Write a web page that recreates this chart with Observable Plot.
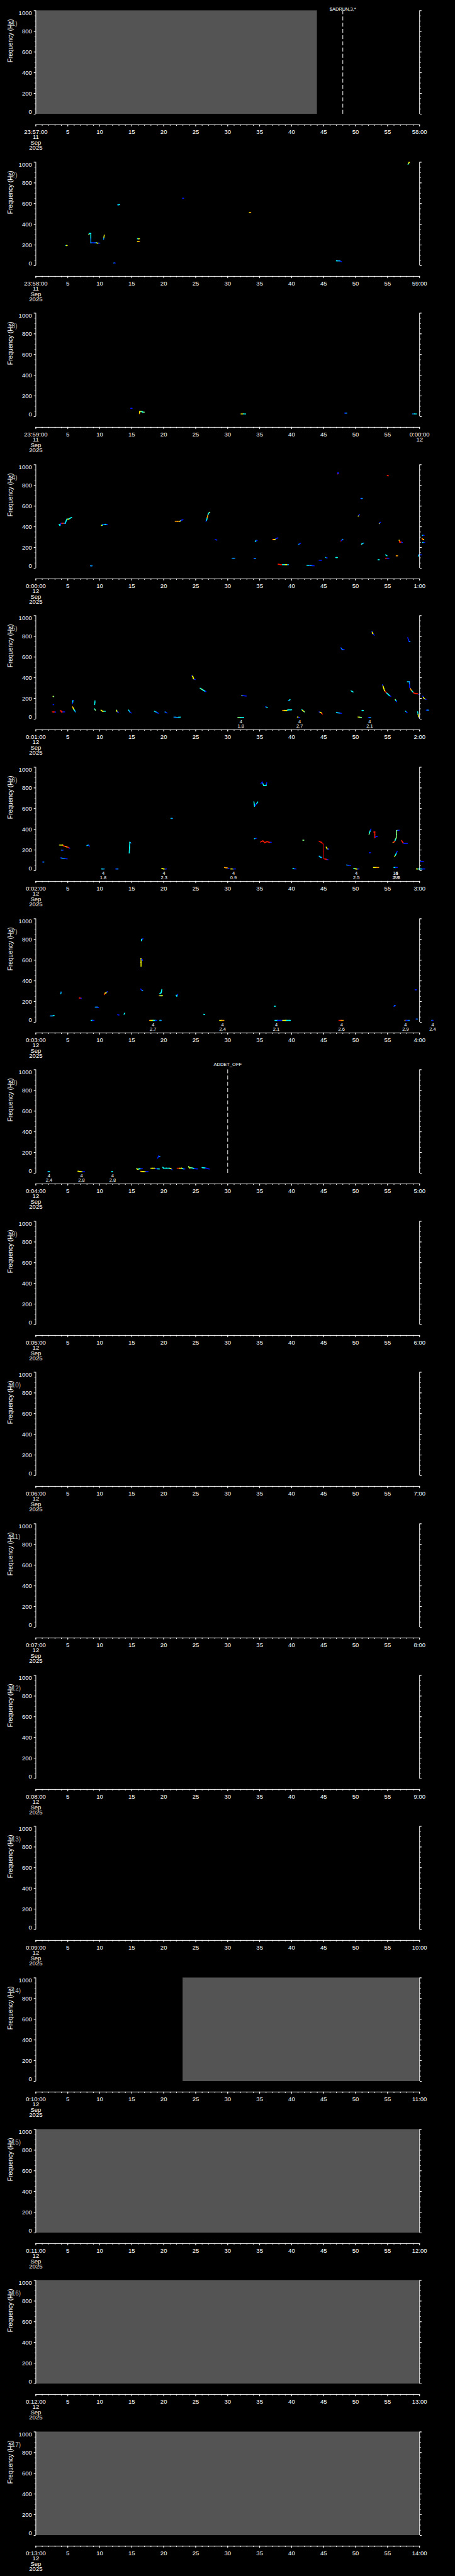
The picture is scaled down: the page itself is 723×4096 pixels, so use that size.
<!DOCTYPE html>
<html><head><meta charset="utf-8">
<script src="https://cdn.jsdelivr.net/npm/d3@7"></script>
<script src="https://cdn.jsdelivr.net/npm/@observablehq/plot@0.6"></script>
<style>
html,body{margin:0;padding:0;background:#000;}
#chart svg{display:block;}
</style></head><body><div id="chart"></div>
<script>
// ---------- data ----------
const panelNumbers = [1,2,3,4,5,6,7,8,9,10,11,12,13,14,15,16,17];
const startLabels = ["23:57:00","23:58:00","23:59:00","0:00:00","0:01:00","0:02:00","0:03:00","0:04:00","0:05:00","0:06:00","0:07:00","0:08:00","0:09:00","0:10:00","0:11:00","0:12:00","0:13:00"];
const endLabels = ["58:00","59:00","0:00:00","1:00","2:00","3:00","4:00","5:00","6:00","7:00","8:00","9:00","10:00","11:00","12:00","13:00","14:00"];
const startDays = ["11","11","11","12","12","12","12","12","12","12","12","12","12","12","12","12","12"];
const endDays = ["","","12","","","","","","","","","","","","","",""];
const monthLabel = "Sep", yearLabel = "2025";
const xMajor = [0,5,10,15,20,25,30,35,40,45,50,55,60];
const xMinor = [0,1,2,3,4,5,6,7,8,9,10,11,12,13,14,15,16,17,18,19,20,21,22,23,24,25,26,27,28,29,30,31,32,33,34,35,36,37,38,39,40,41,42,43,44,45,46,47,48,49,50,51,52,53,54,55,56,57,58,59,60];
const yMajor = [0,200,400,600,800,1000];
const yMinor = [0,50,100,150,200,250,300,350,400,450,500,550,600,650,700,750,800,850,900,950,1000];
const yLabel = "Frequency (Hz)";

// gray "no data" ranges (panel, start s, end s)
const grayPanels = [1,14,15,16,17];
const grayStart = [0,23,0,0,0];
const grayEnd = [44,60,60,60,60];

// event markers
const eventPanels = [1,8];
const eventTimes = [48,30];
const eventLabels = ["$ADRUN,3,*","ADDET_OFF"];

// detection notes below the plot: [time s, line1, line2]
const notes5 = [[32.06,"4","1.8"],[41.25,"4","2.7"],[52.2,"4","2.1"]];
const notes6 = [[10.54,"4","1.8"],[20.05,"4","2.3"],[30.9,"4","0.9"],[50.1,"4","2.5"],[56.25,"16","2.8"],[56.45,"4","2.3"]];
const notes7 = [[18.33,"4","2.7"],[29.2,"4","2.4"],[37.6,"4","2.1"],[47.8,"4","2.6"],[57.8,"4","2.9"],[62.05,"4","2.4"]];
const notes8 = [[2.07,"4","2.4"],[7.14,"4","2.8"],[12.0,"4","2.8"]];

// traces: [time s, frequency Hz, intensity 0..1]
const traces2 = [
 [[4.7,195,.38],[4.9,195,.62]],
 [[8.3,299,.62],[8.35,313,.38],[8.6,313,.38],[8.6,221,.27],[9.0,221,.15],[9.5,221,.27],[9.6,218,.62],[10.0,218,.15]],
 [[10.6,256,.27],[10.7,295,.62]],
 [[12.2,26,.27],[12.4,26,.15]],
 [[12.8,588,.27],[13.1,590,.38]],
 [[15.9,260,.38],[16.2,260,.62]],
 [[15.9,235,.62],[16.2,235,.72]],
 [[22.95,651,.15],[23.1,651,.15]],
 [[33.4,513,.62],[33.6,513,.72]],
 [[47.0,47,.38],[47.5,47,.27],[47.8,38,.15]],
 [[58.2,980,.38],[58.35,997,.62],[58.4,997,.62]]
];
const traces3 = [
 [[14.85,80,.15],[15.05,80,.15]],
 [[16.2,29,.72],[16.25,49,.62],[16.6,49,.5],[16.7,43,.38],[16.95,43,.5]],
 [[32.1,26,.62],[32.8,26,.38]],
 [[48.3,34,.15],[48.6,34,.27]],
 [[58.9,26,.27],[59.5,26,.38]]
];
const traces4 = [
 [[3.65,424,.38],[3.78,413,.38],[3.92,434,.15],[4.2,434,.85],[4.64,434,.27],[4.69,449,.38],[4.87,474,.38],[5.1,474,.62],[5.32,481,.38],[5.6,491,.38]],
 [[8.55,23,.27],[8.8,23,.27]],
 [[10.26,413,.62],[10.5,420,.38],[10.6,424,.15],[10.9,424,.38],[11.2,420,.15]],
 [[21.8,453,.72],[22.5,453,.72],[22.6,457,.5],[22.8,464,.15],[23.0,469,.15]],
 [[26.6,453,.15],[26.75,474,.38],[26.85,503,.72],[27.0,531,.38],[27.2,541,.5]],
 [[28.05,277,.15],[28.3,272,.15]],
 [[30.7,96,.27],[31.1,96,.27]],
 [[34.3,257,.27],[34.45,267,.38],[34.6,267,.15]],
 [[34.1,96,.15],[34.35,94,.27]],
 [[37.0,277,.85],[37.4,277,.62],[37.6,287,.15],[37.85,293,.15]],
 [[37.9,39,.85],[38.3,34,.85],[38.8,34,.38],[39.2,34,.62],[39.5,34,.27]],
 [[41.1,231,.27],[41.4,241,.15]],
 [[42.4,29,.38],[42.9,27,.27],[43.5,23,.15]],
 [[44.3,77,.15],[44.7,77,.15]],
 [[45.35,103,.38],[45.55,100,.15]],
 [[46.9,103,.38],[47.15,103,.38]],
 [[47.2,911,.85],[47.25,923,.15],[47.35,917,.15]],
 [[47.7,263,.85],[47.85,271,.15],[48.0,279,.27]],
 [[50.4,503,.62],[50.6,517,.15]],
 [[50.8,674,.15],[51.05,674,.27]],
 [[50.9,229,.85],[51.0,236,.38],[51.25,243,.27]],
 [[53.5,81,.38],[53.7,81,.38]],
 [[53.7,431,.62],[53.8,441,.15],[53.9,443,.15]],
 [[54.7,129,.38],[54.9,120,.38]],
 [[54.7,96,.85],[55.2,96,.15]],
 [[54.95,896,.85],[55.1,893,.85]],
 [[56.35,120,.72],[56.55,120,.72]],
 [[56.8,271,.62],[56.9,252,.85],[57.1,252,.85],[57.3,249,.15]],
 [[59.8,117,.38],[59.9,129,.27],[60.3,129,.15]],
 [[60.4,287,.62],[60.5,277,.85],[60.65,277,.62]],
 [[60.45,317,.38],[60.7,317,.15]],
 [[60.5,249,.38],[60.8,249,.15]]
];
const traces5 = [
 [[2.6,70,.85],[2.9,68,.85],[3.1,68,.15]],
 [[2.7,220,.62],[2.8,218,.5]],
 [[2.7,140,.15],[2.8,140,.15]],
 [[3.9,84,.85],[4.0,70,.85],[4.5,70,.15]],
 [[5.75,151,.15],[5.8,180,.38],[5.9,180,.15]],
 [[5.75,119,.72],[5.9,99,.62],[6.05,84,.38],[6.2,70,.27]],
 [[9.2,140,.38],[9.25,176,.38]],
 [[9.2,99,.38],[9.3,87,.5]],
 [[10.2,87,.62],[10.4,77,.62],[10.85,76,.38]],
 [[12.6,87,.5],[12.7,75,.62],[12.9,66,.15]],
 [[14.5,87,.38],[14.7,70,.27],[14.9,59,.15]],
 [[18.55,76,.38],[18.9,66,.27],[19.15,56,.15]],
 [[20.2,70,.27],[20.5,59,.15]],
 [[21.6,19,.27],[22.1,17,.27],[22.6,19,.38]],
 [[24.4,419,.15],[24.55,411,.62],[24.65,390,.62],[24.9,383,.15]],
 [[25.7,299,.38],[25.95,289,.5],[26.2,279,.38],[26.4,271,.38],[26.6,266,.15]],
 [[31.6,16,.5],[32.5,16,.38]],
 [[32.2,226,.5],[32.5,226,.15],[32.9,223,.15]],
 [[35.9,119,.15],[36.2,113,.38]],
 [[38.6,84,.72],[39.2,84,.62],[39.5,90,.38],[40.0,90,.38]],
 [[39.5,180,.27],[39.75,187,.38]],
 [[40.9,20,.62],[41.25,16,.15]],
 [[41.6,90,.38],[41.8,80,.62],[42.0,70,.5]],
 [[44.3,70,.15],[44.55,65,.62],[44.8,49,.85]],
 [[47.0,63,.38],[47.4,60,.27],[47.8,56,.15]],
 [[47.7,690,.15],[47.9,673,.27],[48.2,673,.15]],
 [[49.3,273,.38],[49.6,263,.38]],
 [[50.4,20,.62],[50.9,16,.5]],
 [[51.0,84,.38],[51.2,84,.38]],
 [[52.0,16,.15],[52.35,16,.27]],
 [[52.55,849,.15],[52.65,830,.62],[52.9,811,.15]],
 [[54.2,333,.15],[54.35,309,.62],[54.5,277,.62],[54.75,259,.85],[55.0,244,.38],[55.25,230,.38],[55.5,220,.15]],
 [[56.2,190,.62],[56.3,179,.38],[56.4,169,.15]],
 [[57.8,77,.38],[58.05,63,.15]],
 [[58.1,361,.38],[58.4,361,.27],[58.45,309,.15],[58.7,280,.72],[58.9,266,.38],[59.15,251,.85],[59.7,244,.85],[60.05,237,.15]],
 [[58.15,787,.15],[58.35,751,.15],[58.5,751,.27]],
 [[59.7,70,.38],[59.85,20,.62],[60.0,16,.15]],
 [[60.5,223,.15],[60.7,200,.62],[61.0,190,.15]],
 [[61.05,87,.15],[61.4,87,.27]]
];
const traces6 = [
 [[1.05,84,.15],[1.25,84,.27]],
 [[3.7,248,.62],[4.2,248,.62],[4.4,238,.85],[4.8,231,.72],[5.1,224,.85],[5.3,217,.15]],
 [[4.0,199,.27],[4.3,199,.15]],
 [[3.85,124,.15],[4.2,120,.27],[4.9,114,.15]],
 [[8.0,243,.38],[8.2,248,.27],[8.4,238,.15]],
 [[14.6,171,.38],[14.7,274,.38],[14.85,267,.27]],
 [[10.3,17,.38],[10.7,17,.27]],
 [[12.5,17,.15],[12.85,17,.27]],
 [[19.7,21,.62],[20.0,17,.62],[20.4,17,.15]],
 [[21.15,505,.38],[21.35,505,.27]],
 [[29.5,31,.72],[29.9,27,.72],[30.2,21,.15]],
 [[30.5,17,.62],[31.2,17,.15]],
 [[34.1,664,.38],[34.2,624,.38],[34.4,638,.15],[34.7,664,.38]],
 [[34.2,309,.38],[34.5,314,.15]],
 [[35.2,842,.15],[35.4,857,.15],[35.6,824,.38],[36.0,824,.38],[36.1,850,.15]],
 [[35.15,277,.85],[35.5,288,.85],[35.8,271,.85],[36.15,281,.85],[36.5,274,.85],[36.8,274,.15]],
 [[40.2,21,.38],[40.65,17,.15]],
 [[41.75,295,.5],[41.9,295,.5]],
 [[44.3,284,.85],[44.65,274,.85],[44.95,256,.97],[45.0,117,.97],[45.4,110,.85],[45.7,105,.15]],
 [[44.3,141,.27],[44.5,131,.38],[44.7,127,.27]],
 [[45.4,227,.62],[45.55,212,.62],[45.8,209,.15]],
 [[48.6,55,.27],[49.2,49,.15]],
 [[49.7,21,.38],[50.1,17,.62],[50.5,17,.15]],
 [[52.1,352,.5],[52.25,381,.38],[52.4,402,.15]],
 [[52.15,174,.15],[52.3,174,.15]],
 [[52.85,374,.85],[53.0,374,.85],[53.0,320,.85],[53.2,330,.15],[53.4,330,.15]],
 [[52.8,31,.62],[53.6,31,.72]],
 [[55.85,274,.72],[56.1,281,.85],[56.2,298,.38],[56.35,318,.5],[56.4,388,.5],[56.8,391,.15]],
 [[56.1,138,.62],[56.3,159,.38],[56.5,188,.15]],
 [[56.0,31,.38],[56.5,31,.15]],
 [[57.2,291,.85],[57.4,270,.85],[57.6,264,.15],[58.1,264,.15]],
 [[59.5,17,.62],[60.0,17,.38],[60.8,17,.15]],
 [[60.1,91,.15],[60.6,89,.15]]
];
const traces7 = [
 [[2.25,61,.27],[2.6,61,.27],[2.85,65,.38]],
 [[3.9,275,.38],[3.95,292,.27]],
 [[6.8,235,.85],[7.0,233,.85],[7.1,231,.15]],
 [[8.65,18,.38],[9.1,18,.15]],
 [[9.3,146,.27],[9.6,146,.27],[9.8,142,.15]],
 [[10.7,268,.85],[10.85,282,.72],[11.0,285,.62],[11.2,296,.15]],
 [[12.8,73,.15],[13.0,71,.15]],
 [[13.8,78,.38],[13.9,88,.38]],
 [[16.4,321,.15],[16.55,311,.15],[16.7,306,.27]],
 [[16.45,542,.62],[16.45,616,.62],[16.6,605,.15],[16.7,599,.15]],
 [[16.5,788,.38],[16.55,801,.38],[16.75,806,.15]],
 [[17.8,18,.72],[18.2,18,.62],[18.5,18,.38],[18.9,18,.15]],
 [[19.4,278,.38],[19.6,285,.38],[19.7,316,.38]],
 [[19.3,256,.72],[19.55,256,.5],[19.8,256,.62]],
 [[19.4,18,.38],[19.6,18,.27]],
 [[21.95,262,.38],[22.05,253,.38],[22.2,270,.15]],
 [[26.25,78,.38],[26.4,74,.38]],
 [[28.75,18,.62],[29.4,18,.72]],
 [[37.3,155,.38],[37.45,155,.38]],
 [[37.4,18,.38],[38.2,18,.15],[39.0,18,.62],[39.4,18,.38],[39.8,18,.38]],
 [[47.4,18,.85],[48.05,18,.72]],
 [[56.0,154,.15],[56.1,161,.27],[56.2,161,.15]],
 [[57.7,18,.72],[58.0,18,.15],[58.4,18,.27]],
 [[59.3,314,.15],[59.5,314,.15]],
 [[59.45,31,.15],[59.65,31,.27]],
 [[61.9,18,.27],[62.1,18,.15]]
];
const traces8 = [
 [[1.9,15,.27],[2.15,15,.38]],
 [[6.6,19,.62],[7.0,15,.62],[7.6,15,.15]],
 [[11.85,15,.38],[12.0,15,.38]],
 [[15.75,43,.5],[15.95,38,.62],[16.2,43,.38],[16.65,43,.15]],
 [[16.4,18,.72],[16.8,15,.62],[17.55,15,.15]],
 [[18.0,48,.62],[18.5,48,.62],[18.8,43,.15],[19.3,41,.38]],
 [[19.05,146,.15],[19.2,165,.15],[19.4,160,.27]],
 [[19.85,58,.38],[19.95,49,.38],[20.85,48,.38],[21.15,43,.62],[21.3,33,.15]],
 [[22.1,48,.85],[22.8,48,.62],[23.0,43,.38],[23.3,41,.15]],
 [[23.9,65,.5],[24.0,51,.62],[24.25,53,.5],[24.6,48,.38],[24.95,43,.15],[25.3,41,.15]],
 [[26.0,54,.38],[26.35,51,.38],[26.7,48,.15],[27.1,41,.15]]
];
const tracesByPanel = {2:traces2,3:traces3,4:traces4,5:traces5,6:traces6,7:traces7,8:traces8};
const notesByPanel = {5:notes5,6:notes6,7:notes7,8:notes8};

// ---------- layout ----------
const S = 0.705;
const W = 722;
const H = 341.3 * S;
const ML = 80 * S, MR = W - 945 * S;
const PT = 23.3 * S, PB = 256.7 * S, AX = 280.7 * S;
const eventDy = {1: (15.7 - 23.3) * S, 8: (6.7 - 23.3) * S};
const jetDomain = [0, 0.125, 0.375, 0.625, 0.875, 1];
const jetRange = ["#00007f", "#0000ff", "#00ffff", "#ffff00", "#ff0000", "#7f0000"];

function segments(traces) {
  const out = [];
  for (const tr of traces) {
    for (let k = 0; k < tr.length - 1; k++) {
      const a = tr[k], b = tr[k + 1];
      const mx = (a[0] + b[0]) / 2, my = (a[1] + b[1]) / 2;
      out.push({x1: a[0], y1: a[1], x2: mx, y2: my, c: a[2]});
      out.push({x1: mx, y1: my, x2: b[0], y2: b[1], c: b[2]});
    }
  }
  return out;
}

function panel(idx) {
  const n = panelNumbers[idx];
  const gray = grayPanels.map((p, k) => ({p, t0: grayStart[k], t1: grayEnd[k]})).filter(d => d.p === n);
  const events = eventPanels.map((p, k) => ({p, t: eventTimes[k], label: eventLabels[k]})).filter(d => d.p === n);
  const segs = segments(tracesByPanel[n] || []);
  const notes = (notesByPanel[n] || []).map(d => ({t: d[0], text: d[1] + "\n" + d[2]}));
  const xText = xMajor.map((v, k) =>
    k === 0 ? `${startLabels[idx]}\n${startDays[idx]}\n${monthLabel}\n${yearLabel}` :
    k === xMajor.length - 1 ? endLabels[idx] + (endDays[idx] ? "\n" + endDays[idx] : "") : String(v));
  const yMid = yMajor.filter(v => v !== 0 && v !== 1000);

  return Plot.plot({
    width: W, height: H,
    marginLeft: ML, marginRight: MR, marginTop: PT, marginBottom: H - AX,
    x: {domain: [0, 60]},
    y: {domain: [0, 1000], range: [PB, PT]},
    color: {type: "linear", domain: jetDomain, range: jetRange},
    style: {background: "#000", color: "#fff", fontFamily: "'Liberation Sans', Arial, sans-serif", fontSize: "9.6px", overflow: "visible"},
    marks: [
      Plot.rect(gray, {x1: "t0", x2: "t1", y1: 0, y2: 1000, fill: "#545454"}),
      Plot.link(segs, {x1: "x1", y1: "y1", x2: "x2", y2: "y2", stroke: "c", strokeWidth: 1.5, strokeLinecap: "square"}),
      Plot.ruleX(events, {x: "t", y1: 0, y2: 1000, stroke: "#fff", strokeWidth: 1, strokeDasharray: "6.3,3.6"}),
      Plot.text(events, {x: "t", frameAnchor: "top", text: "label", dy: eventDy[n] || 0, fontSize: 7.5, fill: "#fff"}),
      Plot.ruleX([0, 60], {y1: 0, y2: 1000, stroke: "#fff", strokeWidth: 1}),
      Plot.axisY(yMinor, {anchor: "left", tickSize: 1.4, fill: "none", label: null}),
      Plot.axisY(yMajor, {anchor: "left", tickSize: 2.8, fill: "none", label: null}),
      Plot.axisY(yMinor, {anchor: "right", tickSize: 1.4, fill: "none", label: null}),
      Plot.axisY(yMajor, {anchor: "right", tickSize: 2.8, fill: "none", label: null}),
      Plot.text(yMid, {y: d => d, frameAnchor: "left", text: d => String(d), textAnchor: "end", dx: -6, fill: "#fff"}),
      Plot.text([1000], {y: d => d, frameAnchor: "left", text: d => String(d), textAnchor: "end", lineAnchor: "top", dx: -6, fill: "#fff"}),
      Plot.text([0], {y: d => d, frameAnchor: "left", text: d => String(d), textAnchor: "end", lineAnchor: "bottom", dx: -6, fill: "#fff"}),
      Plot.text([500], {y: d => d, frameAnchor: "left", text: () => yLabel, rotate: -90, dx: (23 - 80) * S, fill: "#fff", fontSize: 10}),
      Plot.text([`(${n})`], {frameAnchor: "top-left", text: d => d, dx: (21 - 80) * S, dy: (47 - 23.3) * S, fill: "#b0b0b0", fontSize: 10}),
      Plot.ruleY([0], {dy: AX - PB, stroke: "#fff", strokeWidth: 1}),
      Plot.axisX(xMinor, {anchor: "bottom", tickSize: 2.1, fill: "none", label: null}),
      Plot.axisX(xMajor, {anchor: "bottom", tickSize: 3.3, fill: "none", label: null}),
      Plot.text(xMajor, {x: d => d, frameAnchor: "bottom", text: (d, k) => xText[k], lineAnchor: "top", dy: 8.6, lineHeight: 0.88, fill: "#fff"}),
      Plot.text(notes, {x: "t", y: 0, text: "text", lineAnchor: "middle", dy: (267.4 - 256.7) * S, fontSize: 7.5, lineHeight: 0.9, fill: "#fff"})
    ]
  });
}

const root = document.getElementById("chart");
for (let i = 0; i < panelNumbers.length; i++) root.appendChild(panel(i));
</script></body></html>
